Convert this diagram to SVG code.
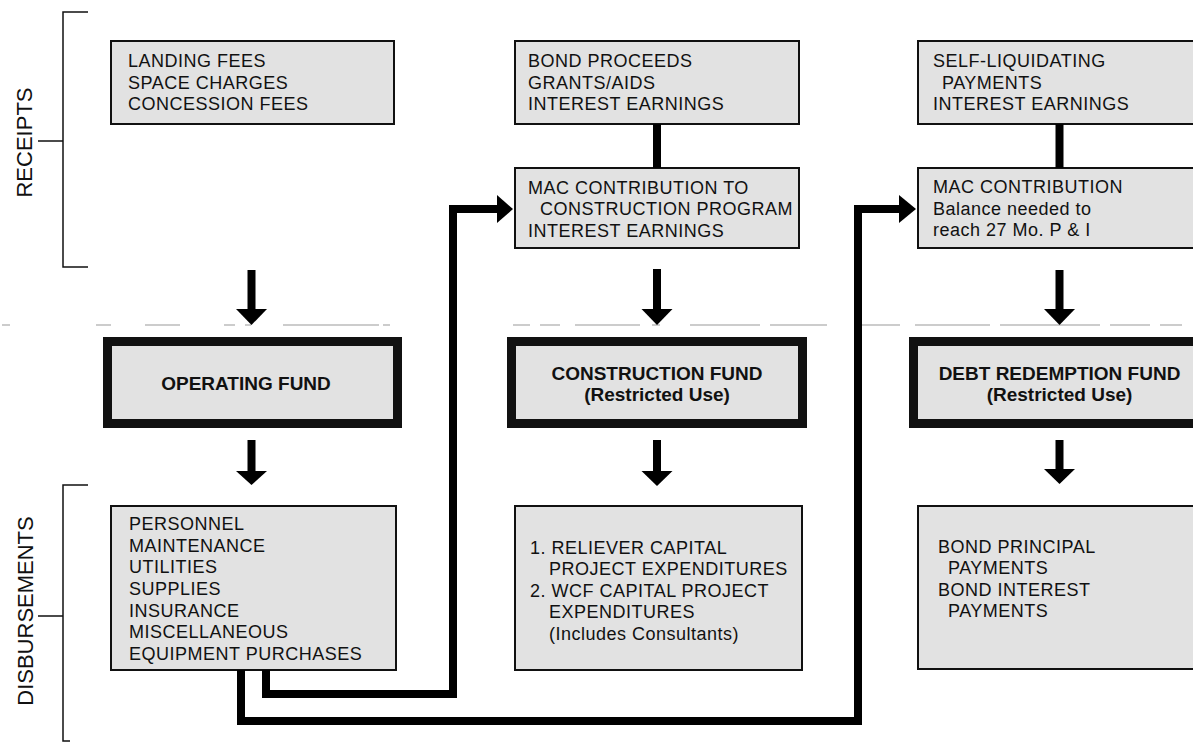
<svg xmlns="http://www.w3.org/2000/svg" width="1193" height="743" viewBox="0 0 1193 743">
<style>
  .box { fill: #e2e2e2; stroke: #111; stroke-width: 2; }
  .fund { fill: #e2e2e2; stroke: #111; stroke-width: 9; }
  .t { font-family: "Liberation Sans", Arial, sans-serif; font-size: 18px; letter-spacing: 0.5px; fill: #111; }
  .b { font-family: "Liberation Sans", Arial, sans-serif; font-size: 19px; font-weight: bold; fill: #111; text-anchor: middle; }
  .side { font-family: "Liberation Sans", Arial, sans-serif; font-size: 22px; fill: #111; text-anchor: middle; }
  .brk { fill: none; stroke: #111; stroke-width: 1.5; }
  .wire { fill: none; stroke: #000; stroke-width: 8; stroke-linejoin: miter; stroke-linecap: butt; }
  .head { fill: #000; }
  .dash { fill: none; stroke: #9a9a9a; stroke-width: 1.2; }
</style>

<!-- dashed separator -->
<path class="dash" d="M2 325 H10 M96 325 H111 M145 325 H180 M224 325 H235 M245 325 H251 M283 325 H379 M383 325 H390 M513 325 H530 M540 325 H560 M575 325 H640 M652 325 H660 M690 325 H760 M770 325 H827 M861 325 H900 M915 325 H990 M1000 325 H1100 M1110 325 H1150 M1160 325 H1182"/>

<!-- brackets -->
<g id="receipts-label">
  <path class="brk" d="M88 12 H63 V267 H88 M38 141 H63"/>
  <text class="side" transform="translate(31.5,142.5) rotate(-90)">RECEIPTS</text>
</g>
<g id="disbursements-label">
  <path class="brk" d="M88 485 H63 V741 H70 M38 616 H63"/>
  <text class="side" transform="translate(32.5,611) rotate(-90)">DISBURSEMENTS</text>
</g>

<!-- receipts boxes -->
<g id="op-receipts">
  <rect class="box" x="111" y="41" width="283" height="83"/>
  <text class="t" x="128" y="67">LANDING FEES</text>
  <text class="t" x="128" y="89">SPACE CHARGES</text>
  <text class="t" x="128" y="110">CONCESSION FEES</text>
</g>
<g id="con-receipts">
  <rect class="box" x="515" y="41" width="284" height="83"/>
  <text class="t" x="528" y="67">BOND PROCEEDS</text>
  <text class="t" x="528" y="89">GRANTS/AIDS</text>
  <text class="t" x="528" y="110">INTEREST EARNINGS</text>
</g>
<g id="mac-construction">
  <rect class="box" x="515" y="168" width="284" height="80"/>
  <text class="t" x="528" y="194">MAC CONTRIBUTION TO</text>
  <text class="t" x="540" y="215">CONSTRUCTION PROGRAM</text>
  <text class="t" x="528" y="237">INTEREST EARNINGS</text>
</g>
<g id="debt-receipts">
  <rect class="box" x="918" y="41" width="290" height="83"/>
  <text class="t" x="933" y="67">SELF-LIQUIDATING</text>
  <text class="t" x="942" y="89">PAYMENTS</text>
  <text class="t" x="933" y="110">INTEREST EARNINGS</text>
</g>
<g id="mac-debt">
  <rect class="box" x="918" y="168" width="290" height="80"/>
  <text class="t" x="933" y="193">MAC CONTRIBUTION</text>
  <text class="t" x="933" y="215">Balance needed to</text>
  <text class="t" x="933" y="236">reach 27 Mo. P &amp; I</text>
</g>

<!-- funds -->
<g id="operating-fund">
  <rect class="fund" x="107.5" y="341.5" width="290" height="82"/>
  <text class="b" x="246" y="390">OPERATING FUND</text>
</g>
<g id="construction-fund">
  <rect class="fund" x="511.5" y="341.5" width="291" height="82"/>
  <text class="b" x="657" y="380">CONSTRUCTION FUND</text>
  <text class="b" x="657" y="401">(Restricted Use)</text>
</g>
<g id="debt-fund">
  <rect class="fund" x="913.5" y="341.5" width="300" height="82"/>
  <text class="b" x="1059.5" y="380">DEBT REDEMPTION FUND</text>
  <text class="b" x="1059.5" y="401">(Restricted Use)</text>
</g>

<!-- disbursements -->
<g id="op-disb">
  <rect class="box" x="111" y="506" width="285" height="164"/>
  <text class="t" x="129" y="530">PERSONNEL</text>
  <text class="t" x="129" y="552">MAINTENANCE</text>
  <text class="t" x="129" y="573">UTILITIES</text>
  <text class="t" x="129" y="595">SUPPLIES</text>
  <text class="t" x="129" y="617">INSURANCE</text>
  <text class="t" x="129" y="638">MISCELLANEOUS</text>
  <text class="t" x="129" y="660">EQUIPMENT PURCHASES</text>
</g>
<g id="con-disb">
  <rect class="box" x="515" y="506" width="287" height="164"/>
  <text class="t" x="530" y="554">1. RELIEVER CAPITAL</text>
  <text class="t" x="549" y="575">PROJECT EXPENDITURES</text>
  <text class="t" x="530" y="597">2. WCF CAPITAL PROJECT</text>
  <text class="t" x="549" y="618">EXPENDITURES</text>
  <text class="t" x="549" y="640">(Includes Consultants)</text>
</g>
<g id="debt-disb">
  <rect class="box" x="918" y="506" width="290" height="163"/>
  <text class="t" x="938" y="553">BOND PRINCIPAL</text>
  <text class="t" x="948" y="574">PAYMENTS</text>
  <text class="t" x="938" y="596">BOND INTEREST</text>
  <text class="t" x="948" y="617">PAYMENTS</text>
</g>

<!-- connectors -->
<g id="connectors">
  <!-- receipts links -->
  <path class="wire" d="M657 124 V168"/>
  <path class="wire" d="M1059.5 124 V168"/>
  <!-- down arrows row 1 -->
  <path class="wire" d="M251.5 270 V310"/>
  <polygon class="head" points="236,309 267,309 251.5,325"/>
  <path class="wire" d="M657 269 V310"/>
  <polygon class="head" points="641.5,309 672.5,309 657,325"/>
  <path class="wire" d="M1059.5 270 V310"/>
  <polygon class="head" points="1044,309 1075,309 1059.5,325"/>
  <!-- down arrows row 2 -->
  <path class="wire" d="M251.5 440 V472"/>
  <polygon class="head" points="236,471 267,471 251.5,485"/>
  <path class="wire" d="M657 440 V472"/>
  <polygon class="head" points="641.5,471 672.5,471 657,486"/>
  <path class="wire" d="M1059.5 440 V470"/>
  <polygon class="head" points="1044,469 1075,469 1059.5,484"/>
  <!-- operating to construction -->
  <path class="wire" d="M266 670 V694 H453 V209 H498"/>
  <polygon class="head" points="497,195 513,209 497,223"/>
  <!-- operating to debt -->
  <path class="wire" d="M241 670 V721 H858 V209 H900"/>
  <polygon class="head" points="899,195 916,209 899,223"/>
</g>
</svg>
